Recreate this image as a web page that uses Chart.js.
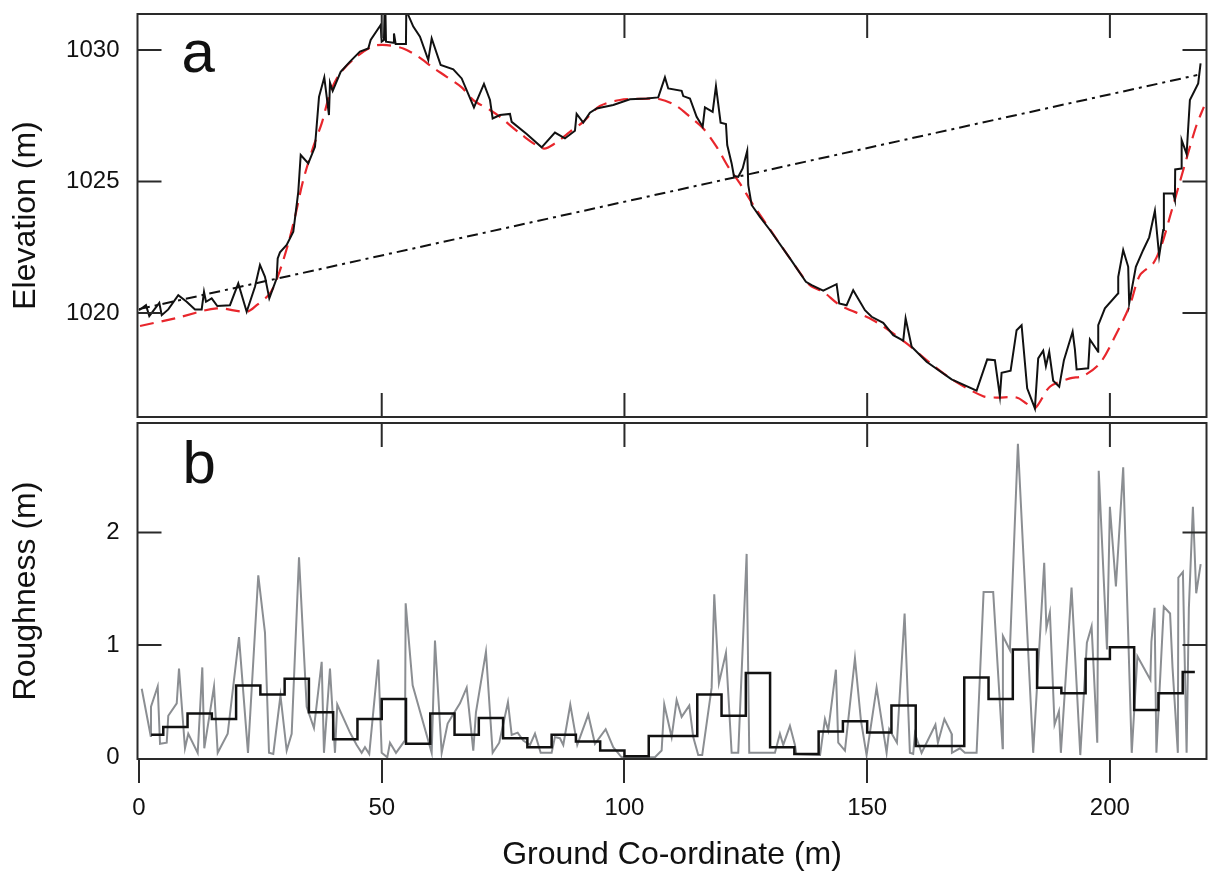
<!DOCTYPE html>
<html>
<head>
<meta charset="utf-8">
<title>Elevation and roughness profile</title>
<script src="https://cdn.jsdelivr.net/npm/chart.js@4"></script>
<style>
  html, body { margin: 0; padding: 0; background: #fff; }
  #wrap { position: relative; width: 1209px; height: 874px; }
  canvas { position: absolute; left: 0; }
  #topChart { top: 0; }
  #bottomChart { top: 420px; }
</style>
</head>
<body>
<div id="wrap">
  <canvas id="topChart" width="1209" height="420"></canvas>
  <canvas id="bottomChart" width="1209" height="454"></canvas>
</div>
<script>
// ticks
const xTicks = [0, 50, 100, 150, 200];
const elevTicks = [1020, 1025, 1030];
const roughTicks = [0, 1, 2];

// panel a: measured elevation (m)
const elevX = [0, 1.44, 2.12, 4.18, 4.68, 6.03, 8.09, 9.82, 11.53, 12.91,
  13.39, 13.8, 14.97, 16.13, 18.74, 20.45, 22.18, 23.89, 24.92, 25.95,
  26.84, 28.36, 28.57, 29.04, 30.42, 31.78, 32.13, 32.81, 33.31, 34.87,
  36.25, 37.08, 38.17, 39.13, 39.34, 39.9, 41.54, 43.46, 45.52, 47.23,
  47.72, 49.78, 49.99, 50.46, 50.67, 50.88, 52.38, 52.52, 52.87, 54.99,
  55.1, 55.47, 56.5, 57.88, 59.59, 60.29, 62.14, 64.74, 66.47, 69.0,
  71.06, 72.3, 72.85, 74.36, 76.42, 76.77, 79.86, 82.94, 85.68, 87.74,
  89.8, 90.15, 91.51, 92.89, 94.27, 97.69, 101.13, 104.57, 106.96, 108.34,
  109.02, 111.78, 112.11, 113.49, 114.87, 116.11, 116.58, 118.17, 118.85, 119.81,
  120.91, 121.17, 122.08, 122.55, 123.44, 124.35, 125.29, 125.5, 126.2, 127.91,
  129.97, 134.09, 137.38, 138.56, 140.95, 143.7, 144.24, 145.76, 147.12, 149.54,
  150.92, 153.3, 155.37, 157.43, 157.92, 159.16, 162.24, 167.39, 172.54, 174.73,
  176.31, 177.34, 177.69, 179.55, 180.78, 181.81, 182.96, 184.55, 185.23, 186.26,
  186.82, 187.5, 188.32, 189.56, 190.53, 192.32, 192.79, 193.14, 195.53, 195.88,
  197.59, 197.6, 198.97, 201.71, 201.72, 202.74, 203.77, 203.97, 205.35, 206.86,
  208.09, 209.27, 210.15, 210.98, 211.12, 213.04, 213.39, 213.45, 214.77, 214.78,
  215.8, 216.48, 218.19, 218.68];
const elevY = [1020.11, 1020.30, 1019.89, 1020.39, 1019.92, 1020.14, 1020.68, 1020.43, 1020.14, 1020.14,
  1020.81, 1020.43, 1020.56, 1020.27, 1020.30, 1021.13, 1020.05, 1021.00, 1021.83, 1021.38,
  1020.56, 1021.32, 1022.08, 1022.31, 1022.59, 1023.09, 1023.60, 1024.61, 1026.01, 1025.69,
  1026.32, 1028.22, 1028.96, 1027.53, 1028.76, 1028.45, 1029.17, 1029.56, 1029.94, 1030.06,
  1030.38, 1030.95, 1030.32, 1030.38, 1032.3, 1030.32, 1030.28, 1030.63, 1030.23, 1030.23,
  1032.3, 1031.33, 1030.89, 1030.51, 1029.62, 1030.44, 1029.43, 1029.27, 1028.92, 1027.82,
  1028.71, 1028.10, 1027.40, 1027.53, 1027.57, 1027.27, 1026.81, 1026.30, 1026.86, 1026.64,
  1026.93, 1027.57, 1027.24, 1027.62, 1027.78, 1027.91, 1028.13, 1028.16, 1028.20, 1028.96,
  1028.54, 1028.45, 1028.25, 1028.16, 1027.46, 1027.08, 1027.82, 1027.65, 1028.63, 1027.24,
  1027.19, 1026.39, 1025.69, 1025.21, 1025.18, 1025.50, 1026.17, 1024.87, 1024.11, 1023.66,
  1023.16, 1022.08, 1021.19, 1021.06, 1020.85, 1021.10, 1020.37, 1020.30, 1020.87, 1020.11,
  1019.86, 1019.63, 1019.16, 1018.95, 1019.80, 1018.72, 1018.15, 1017.48, 1017.05, 1018.24,
  1018.21, 1016.84, 1017.73, 1017.81, 1019.35, 1019.54, 1017.14, 1016.38, 1018.28, 1018.57,
  1017.98, 1018.53, 1017.43, 1017.20, 1018.21, 1019.29, 1018.62, 1017.86, 1017.90, 1019.00,
  1018.53, 1019.54, 1020.18, 1020.75, 1021.38, 1022.40, 1021.76, 1020.37, 1021.76, 1022.40,
  1022.88, 1023.89, 1022.17, 1023.16, 1024.55, 1024.55, 1024.30, 1025.46, 1025.50, 1026.58,
  1026.05, 1028.10, 1028.73, 1029.49];

// panel a: smoothed surface (red dashed)
const fitX = [0.21, 7.42, 16.0, 22.18, 24.24, 26.98, 28.69, 30.75, 32.13, 33.84,
  35.9, 37.63, 39.34, 41.4, 44.84, 48.26, 51.02, 54.44, 57.53, 60.29,
  63.38, 66.47, 68.86, 72.3, 74.36, 78.48, 83.27, 85.68, 88.77, 91.51,
  94.95, 99.07, 102.51, 107.31, 110.75, 113.49, 116.23, 118.99, 121.38, 123.79,
  126.53, 129.62, 134.09, 138.21, 140.95, 144.39, 151.24, 158.12, 162.24, 167.72,
  173.9, 176.67, 180.78, 182.84, 184.55, 187.64, 191.76, 194.5, 197.94, 201.38,
  204.12, 206.18, 208.92, 210.65, 212.36, 214.42, 216.48, 217.86, 219.36];
const fitY = [1019.51, 1019.80, 1020.18, 1020.05, 1020.30, 1020.75, 1021.44, 1022.65, 1023.66, 1025.06,
  1026.32, 1027.21, 1028.35, 1029.11, 1029.75, 1030.15, 1030.19, 1030.06, 1029.75, 1029.37,
  1028.98, 1028.58, 1028.10, 1027.72, 1027.46, 1026.83, 1026.26, 1026.45, 1026.89, 1027.27,
  1027.87, 1028.10, 1028.14, 1028.13, 1027.87, 1027.46, 1027.02, 1026.32, 1025.56, 1024.93,
  1024.11, 1023.28, 1022.08, 1021.06, 1020.81, 1020.30, 1019.73, 1018.85, 1018.21, 1017.45,
  1016.84, 1016.79, 1016.79, 1016.56, 1016.38, 1017.20, 1017.52, 1017.61, 1018.09, 1019.23,
  1020.30, 1021.44, 1021.89, 1022.59, 1023.66, 1024.99, 1026.32, 1027.15, 1027.84];

// panel a: end-to-end trend (dash-dot)
const trendX = [0, 218];
const trendY = [1020.15, 1029.05];

// panel b: point roughness (grey)
const roughX = [0.56, 2.41, 2.47, 3.85, 4.33, 5.71, 6.03, 7.77, 8.24, 9.47,
  10.15, 12.09, 13.04, 13.45, 15.45, 16.21, 18.27, 20.6, 22.45, 24.57,
  25.95, 26.78, 27.66, 29.14, 30.42, 31.45, 32.96, 34.54, 36.04, 37.63,
  38.1, 39.34, 40.37, 40.84, 43.46, 44.84, 45.87, 46.55, 47.43, 49.29,
  49.99, 51.14, 51.7, 52.94, 54.79, 54.93, 56.37, 60.29, 60.97, 62.35,
  63.58, 64.41, 66.12, 67.5, 68.86, 69.41, 71.47, 72.85, 74.21, 76.0,
  76.77, 78.0, 79.16, 80.54, 81.57, 82.74, 85.0, 85.68, 86.71, 87.4,
  88.84, 90.28, 92.54, 93.92, 96.13, 97.69, 99.42, 106.28, 107.66, 108.2,
  109.72, 110.75, 111.78, 113.35, 114.17, 115.2, 116.02, 117.96, 118.5, 119.46,
  120.91, 122.08, 123.44, 125.17, 125.71, 131.0, 132.03, 132.71, 134.09, 135.12,
  135.4, 140.3, 141.3, 141.98, 143.56, 144.04, 145.42, 147.48, 148.71, 149.88,
  151.94, 154.0, 154.54, 156.13, 157.71, 158.8, 159.48, 159.84, 161.21, 164.06,
  164.57, 165.91, 167.39, 167.46, 169.1, 170.13, 172.54, 173.98, 175.96, 177.9,
  177.96, 179.4, 181.05, 184.2, 186.47, 186.92, 187.64, 188.6, 189.5, 189.9,
  192.1, 193.9, 195.26, 196.23, 197.4, 197.7, 199.4, 200.0, 201.24, 202.74,
  204.5, 205.67, 208.34, 208.55, 209.2, 209.58, 211.1, 212.4, 212.9, 214.0,
  214.1, 215.04, 215.8, 216.27, 217.1, 217.78, 218.7];
const roughY = [0.61, 0.19, 0.45, 0.63, 0.12, 0.13, 0.37, 0.48, 0.79, 0.08,
  0.21, 0.04, 0.80, 0.08, 0.63, 0.04, 0.21, 1.07, 0.04, 1.62,
  1.11, 0.04, 0.03, 0.55, 0.06, 0.21, 1.78, 0.45, 0.26, 0.85,
  0.04, 0.79, 0.04, 0.47, 0.22, 0.11, 0.04, 0.09, 0.03, 0.87,
  0.04, 0.0, 0.13, 0.04, 0.15, 1.37, 0.64, 0.04, 1.04, 0.04,
  0.30, 0.36, 0.48, 0.62, 0.06, 0.40, 0.94, 0.04, 0.13, 0.49,
  0.20, 0.22, 0.15, 0.11, 0.21, 0.04, 0.04, 0.18, 0.17, 0.11,
  0.47, 0.11, 0.38, 0.12, 0.25, 0.09, 0.0, 0.0, 0.06, 0.47,
  0.18, 0.51, 0.36, 0.46, 0.18, 0.02, 0.02, 0.62, 1.45, 0.66,
  0.93, 0.04, 0.04, 1.81, 0.04, 0.04, 0.21, 0.11, 0.28, 0.11,
  0.03, 0.02, 0.34, 0.24, 0.78, 0.13, 0.06, 0.88, 0.33, 0.02,
  0.62, 0.04, 0.25, 0.13, 1.28, 0.04, 0.03, 0.21, 0.04, 0.29,
  0.13, 0.34, 0.21, 0.04, 0.08, 0.04, 0.04, 1.47, 1.47, 0.08,
  1.08, 0.955, 2.79, 0.04, 1.73, 1.15, 1.29, 0.29, 0.41, 0.04,
  1.51, 0.02, 1.02, 1.165, 0.13, 2.55, 0.96, 2.23, 1.52, 2.58,
  0.04, 0.90, 0.69, 1.03, 1.33, 0.04, 1.34, 1.28, 0.80, 0.04,
  1.60, 1.65, 0.04, 1.33, 2.23, 1.46, 1.72];

// panel b: 5 m block roughness (black steps)
const binX = [2.5, 5, 10, 15, 20, 25, 30, 35, 40, 45, 50, 55, 60, 65, 70, 75, 80, 85, 90, 95,
  100, 105, 110, 115, 120, 125, 130, 135, 140, 145, 150, 155, 160, 165, 170, 175, 180, 185, 190, 195,
  200, 205, 210, 215, 217.5];
const binV = [0.20, 0.27, 0.39, 0.34, 0.64, 0.56, 0.70, 0.40, 0.16, 0.34,
  0.52, 0.12, 0.39, 0.20, 0.35, 0.17, 0.09, 0.20, 0.14, 0.06,
  0.01, 0.19, 0.19, 0.56, 0.37, 0.75, 0.09, 0.03, 0.23, 0.32,
  0.22, 0.46, 0.10, 0.10, 0.71, 0.52, 0.96, 0.62, 0.57, 0.875,
  0.98, 0.42, 0.57, 0.76, 0.76];

const X_MIN = -0.31, X_MAX = 219.9;
const TICK_LEN = 24;
const FONT = '"Liberation Sans", Arial, Helvetica, sans-serif';

Chart.defaults.font.family = FONT;
Chart.defaults.color = '#111';

const pts = (xs, ys) => xs.map((x, i) => ({x: x, y: ys[i]}));

// caja, marcas hacia dentro y letra del panel
const framePlugin = {
    id: 'frame',
    afterDatasetsDraw(chart, args, opts) {
        const {ctx, chartArea: a, scales: {x, y}} = chart;
        ctx.save();
        ctx.strokeStyle = '#2a2a2a';
        ctx.lineWidth = 2;
        ctx.beginPath();
        xTicks.forEach(v => {
            const px = x.getPixelForValue(v);
            if (px - a.left < 4 || a.right - px < 4) return;
            ctx.moveTo(px, a.top);
            ctx.lineTo(px, a.top + TICK_LEN);
            if (opts.bottomTicks) {
                ctx.moveTo(px, a.bottom);
                ctx.lineTo(px, a.bottom - TICK_LEN);
            }
        });
        opts.yTicks.forEach(v => {
            const py = y.getPixelForValue(v);
            if (a.bottom - py < 4 || py - a.top < 4) return;
            ctx.moveTo(a.left, py);
            ctx.lineTo(a.left + TICK_LEN, py);
            ctx.moveTo(a.right, py);
            ctx.lineTo(a.right - TICK_LEN, py);
        });
        ctx.stroke();
        ctx.strokeRect(a.left, a.top, a.right - a.left, a.bottom - a.top);
        ctx.fillStyle = '#111';
        ctx.font = '60px ' + FONT;
        ctx.textAlign = 'left';
        ctx.textBaseline = 'alphabetic';
        ctx.fillText(opts.label, a.left + opts.labelDx, a.top + opts.labelDy);
        ctx.restore();
    }
};

function yAxis(min, max, ticks, title) {
    return {
        type: 'linear',
        min: min,
        max: max,
        afterBuildTicks: s => { s.ticks = ticks.map(v => ({value: v})); },
        afterFit: s => { s.width = 137.5; s.paddingTop = 0; s.paddingBottom = 0; },
        grid: {display: false},
        border: {display: false},
        ticks: {padding: 10, font: {size: 24}, color: '#111', callback: v => String(v)},
        title: {display: true, text: title, font: {size: 32}, color: '#111', padding: {top: 7, bottom: 0}}
    };
}

const common = {
    responsive: false,
    animation: false,
    devicePixelRatio: 1,
    events: [],
    elements: {point: {radius: 0}, line: {borderCapStyle: 'butt', borderJoinStyle: 'miter'}}
};

// Panel a: elevación
new Chart(document.getElementById('topChart'), {
    type: 'line',
    data: {
        datasets: [
            {label: 'Elevation', data: pts(elevX, elevY), borderColor: '#111', borderWidth: 2},
            {label: 'Smoothed', data: pts(fitX, fitY), borderColor: '#e8262c', borderWidth: 2.2,
             borderDash: [14, 8], tension: 0.3},
            {label: 'Trend', data: pts(trendX, trendY), borderColor: '#111', borderWidth: 2,
             borderDash: [11, 5, 3, 5]}
        ]
    },
    options: Object.assign({}, common, {
        layout: {padding: {left: 0, right: 2.5, top: 14, bottom: 3}},
        scales: {
            x: {type: 'linear', min: X_MIN, max: X_MAX, display: false},
            y: yAxis(1016.05, 1031.37, elevTicks, 'Elevation (m)')
        },
        plugins: {
            legend: {display: false},
            tooltip: {enabled: false},
            frame: {bottomTicks: true, yTicks: elevTicks, label: 'a', labelDx: 44, labelDy: 58}
        }
    }),
    plugins: [framePlugin]
});

// Panel b: rugosidad
new Chart(document.getElementById('bottomChart'), {
    type: 'line',
    data: {
        datasets: [
            {label: 'Block roughness', data: pts(binX, binV), borderColor: '#111', borderWidth: 2.5,
             stepped: 'before'},
            {label: 'Roughness', data: pts(roughX, roughY), borderColor: '#8b8e92', borderWidth: 2}
        ]
    },
    options: Object.assign({}, common, {
        layout: {padding: {left: 0, right: 2.5, top: 3, bottom: 0}},
        scales: {
            x: {
                type: 'linear',
                min: X_MIN,
                max: X_MAX,
                afterBuildTicks: s => { s.ticks = xTicks.map(v => ({value: v})); },
                afterFit: s => { s.height = 115; s.paddingLeft = 0; s.paddingRight = 0; },
                grid: {display: true, drawOnChartArea: false, drawTicks: true, tickLength: TICK_LEN,
                       color: '#2a2a2a', lineWidth: 2},
                border: {display: false},
                ticks: {padding: 11, font: {size: 24}, color: '#111', maxRotation: 0, autoSkip: false,
                        callback: v => String(v)},
                title: {display: true, text: 'Ground Co-ordinate (m)', font: {size: 32}, color: '#111',
                        padding: {top: 0, bottom: 0}}
            },
            y: yAxis(-0.015, 2.975, roughTicks, 'Roughness (m)')
        },
        plugins: {
            legend: {display: false},
            tooltip: {enabled: false},
            frame: {bottomTicks: false, yTicks: roughTicks, label: 'b', labelDx: 45, labelDy: 60}
        }
    }),
    plugins: [framePlugin]
});
</script>
</body>
</html>
